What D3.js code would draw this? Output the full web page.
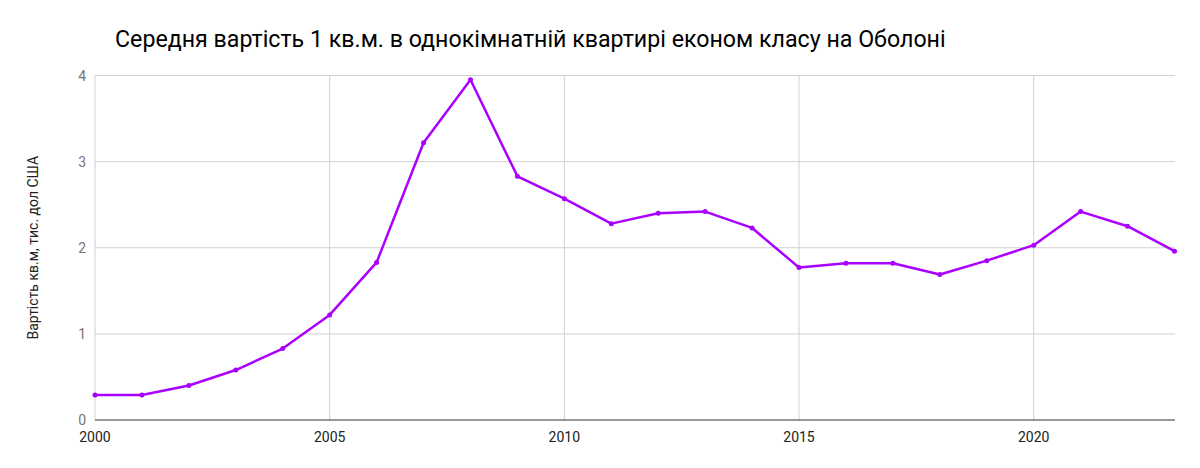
<!DOCTYPE html>
<html>
<head>
<meta charset="utf-8">
<script src="https://cdn.jsdelivr.net/npm/d3@7"></script>
<style>
  body { margin: 0; background: #fff; }
  svg { font-family: Roboto, sans-serif; }
</style>
</head>
<body>
<svg id="chart" width="1200" height="468"></svg>
<script>
const years = [2000, 2001, 2002, 2003, 2004, 2005, 2006, 2007, 2008, 2009, 2010, 2011,
               2012, 2013, 2014, 2015, 2016, 2017, 2018, 2019, 2020, 2021, 2022, 2023]
const prices = [0.29, 0.29, 0.40, 0.58, 0.83, 1.22, 1.83, 3.22, 3.95, 2.83, 2.57, 2.28,
                2.40, 2.42, 2.23, 1.77, 1.82, 1.82, 1.69, 1.85, 2.03, 2.42, 2.25, 1.96]
const xTicks = [2000, 2005, 2010, 2015, 2020]
const yTicks = [0, 1, 2, 3, 4]

const titleText = "Середня вартість 1 кв.м. в однокімнатній квартирі економ класу на Оболоні"
const yLabel = "Вартість кв.м, тис. дол США"

const svg = d3.select("#chart")
const margin = {left: 95, right: 25, top: 75.5, bottom: 48}
const width = 1200, height = 468

const x = d3.scaleLinear().domain([2000, 2023]).range([margin.left, width - margin.right - 0.5])
const y = d3.scaleLinear().domain([0, 4]).range([height - margin.bottom, margin.top])

// title
svg.append("text")
  .attr("x", 115).attr("y", 47)
  .style("font-size", "23.2px").style("fill", "#000")
  .text(titleText)

// horizontal grid
svg.append("g").selectAll("line")
  .data(yTicks.filter(d => d > 0)).join("line")
  .attr("x1", margin.left).attr("x2", width - margin.right)
  .attr("y1", d => y(d)).attr("y2", d => y(d))
  .attr("stroke", "#d0d0d0").attr("stroke-width", 1)

// vertical grid
svg.append("g").selectAll("line")
  .data(xTicks).join("line")
  .attr("x1", d => x(d)).attr("x2", d => x(d))
  .attr("y1", margin.top).attr("y2", y(0))
  .attr("stroke", "#d0d0d0").attr("stroke-width", 1)

svg.append("g").selectAll("text")
  .data(yTicks).join("text")
  .attr("x", 86).attr("y", d => y(d) + 5)
  .attr("text-anchor", "end")
  .style("font-size", "14px").style("fill", "#757575")
  .text(d => d)

// baseline
svg.append("line")
  .attr("x1", margin.left).attr("x2", width - margin.right)
  .attr("y1", y(0)).attr("y2", y(0))
  .attr("stroke", "#333").attr("stroke-width", 1)

// x labels
svg.append("g").selectAll("text")
  .data(xTicks).join("text")
  .attr("x", d => x(d)).attr("y", y(0) + 22)
  .attr("text-anchor", "middle")
  .style("font-size", "14px").style("fill", "#222")
  .text(d => d)

// y axis title
svg.append("text")
  .attr("transform", `translate(38, ${(y(0) + y(4)) / 2}) rotate(-90)`)
  .attr("text-anchor", "middle")
  .style("font-size", "14px").style("fill", "#222")
  .text(yLabel)

const data = years.map((d, i) => ({year: d, value: prices[i]}))

svg.append("path")
  .datum(data)
  .attr("fill", "none")
  .attr("stroke", "#aa00ff")
  .attr("stroke-width", 2.5)
  .attr("stroke-linejoin", "round")
  .attr("d", d3.line().x(d => x(d.year)).y(d => y(d.value)))

svg.append("g").selectAll("circle")
  .data(data).join("circle")
  .attr("cx", d => x(d.year)).attr("cy", d => y(d.value))
  .attr("r", 2.5)
  .attr("fill", "#aa00ff")
</script>
</body>
</html>
